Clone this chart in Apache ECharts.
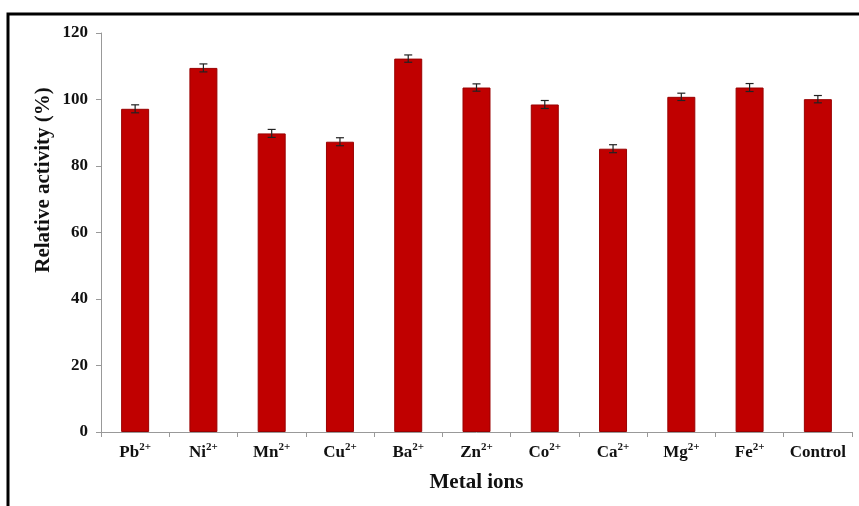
<!DOCTYPE html>
<html>
<head>
<meta charset="utf-8">
<script src="https://cdn.jsdelivr.net/npm/echarts@6/dist/echarts.min.js"></script>
<style>
  html, body { margin: 0; padding: 0; background: #fff; }
  #chart { width: 859px; height: 506px; }
</style>
</head>
<body>
<div id="chart"></div>
<script>
// Metal ion labels: element symbol and charge
const ionSymbols = ['Pb', 'Ni', 'Mn', 'Cu', 'Ba', 'Zn', 'Co', 'Ca', 'Mg', 'Fe', 'Control'];
const ionCharges = ['2+', '2+', '2+', '2+', '2+', '2+', '2+', '2+', '2+', '2+', ''];
// Relative activity (%) and standard error per ion
const activity = [97.2, 109.5, 89.8, 87.3, 112.3, 103.6, 98.5, 85.2, 100.8, 103.6, 100.1];
const activityErr = [1.2, 1.2, 1.2, 1.2, 1.1, 1.1, 1.2, 1.2, 1.1, 1.2, 1.1];
const yTicks = [0, 20, 40, 60, 80, 100, 120];

const serif = '"Liberation Serif", "Times New Roman", serif';

const chart = echarts.init(document.getElementById('chart'));

chart.setOption({
  animation: false,
  backgroundColor: '#fff',
  grid: { left: 101, right: 7, top: 33, bottom: 74 },
  graphic: [
    {
      type: 'rect',
      shape: { x: 8, y: 14, width: 900, height: 600 },
      style: { fill: 'none', stroke: '#000', lineWidth: 3 },
      silent: true
    },
    {
      type: 'text',
      x: 44, y: 180,
      rotation: Math.PI / 2,
      style: {
        text: 'Relative activity (%)',
        font: 'bold 21px ' + serif,
        fill: '#111',
        align: 'center',
        verticalAlign: 'middle'
      }
    }
  ],
  xAxis: {
    type: 'category',
    data: ionSymbols.map((s, i) => ionCharges[i] ? '{b|' + s + '}{s|' + ionCharges[i] + '}' : '{b|' + s + '}'),
    name: 'Metal ions',
    nameLocation: 'middle',
    nameGap: 40,
    nameTextStyle: { fontFamily: serif, fontWeight: 'bold', fontSize: 21, color: '#111' },
    axisLine: { lineStyle: { color: '#999', width: 1 } },
    axisTick: { show: true, alignWithLabel: false, length: 5, lineStyle: { color: '#999' } },
    axisLabel: {
      margin: 10,
      interval: 0,
      rich: {
        b: { fontFamily: serif, fontWeight: 'bold', fontSize: 17, color: '#111', lineHeight: 19, verticalAlign: 'bottom' },
        s: { fontFamily: serif, fontWeight: 'bold', fontSize: 11, color: '#111', lineHeight: 19, verticalAlign: 'top', padding: [0, 0, 6, 0] }
      }
    }
  },
  yAxis: {
    type: 'value',
    min: 0,
    max: 120,
    interval: 20,
    axisLine: { show: true, lineStyle: { color: '#999', width: 1 } },
    axisTick: { show: true, length: 5, lineStyle: { color: '#999' } },
    splitLine: { show: false },
    axisLabel: {
      margin: 13,
      fontFamily: serif,
      fontWeight: 'bold',
      fontSize: 17,
      color: '#111',
      customValues: yTicks
    }
  },
  series: [
    {
      type: 'bar',
      data: activity,
      barWidth: '41%',
      itemStyle: { color: '#c00000', borderColor: '#9a0000', borderWidth: 1 }
    },
    {
      type: 'custom',
      data: activity.map((v, i) => [i, v, activityErr[i]]),
      z: 10,
      renderItem: function (params, api) {
        const i = api.value(0);
        const v = api.value(1);
        const e = api.value(2);
        const hi = api.coord([i, v + e]);
        const lo = api.coord([i, v - e]);
        const half = 4;
        const st = { stroke: '#222', lineWidth: 1.2 };
        return {
          type: 'group',
          children: [
            { type: 'line', shape: { x1: hi[0], y1: hi[1], x2: lo[0], y2: lo[1] }, style: st },
            { type: 'line', shape: { x1: hi[0] - half, y1: hi[1], x2: hi[0] + half, y2: hi[1] }, style: st },
            { type: 'line', shape: { x1: lo[0] - half, y1: lo[1], x2: lo[0] + half, y2: lo[1] }, style: st }
          ]
        };
      }
    }
  ]
});
</script>
</body>
</html>
